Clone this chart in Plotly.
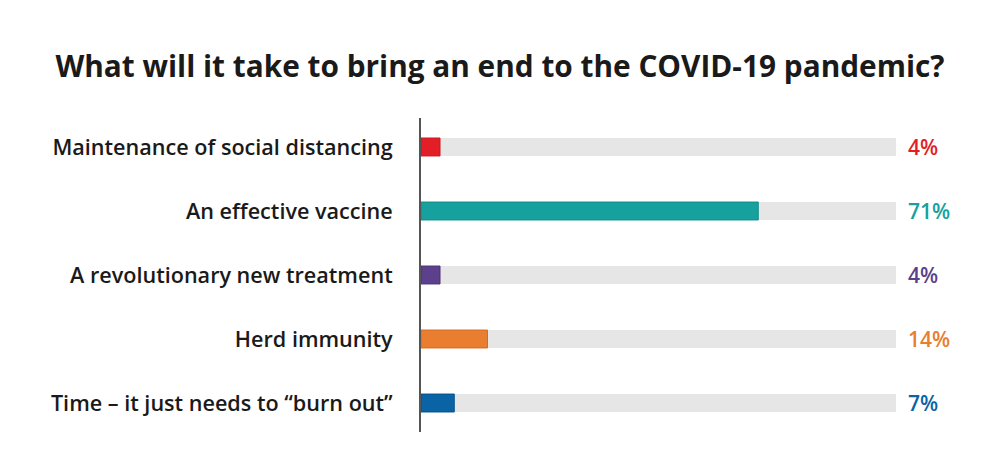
import plotly.graph_objects as go

categories = ["Maintenance of social distancing", "An effective vaccine",
              "A revolutionary new treatment", "Herd immunity",
              "Time \u2013 it just needs to \u201cburn out\u201d"]
values = [4, 71, 4, 14, 7]
labels = ["4%", "71%", "4%", "14%", "7%"]
colors = ["#E31E26", "#16A19F", "#5C408C", "#E97E30", "#0A63A5"]
edge_colors = ["#C8161D", "#0F8C8A", "#4A3075", "#D86A1E", "#07528A"]
track_max = [100] * 5

FONT = "Open Sans"

fig = go.Figure()
fig.add_trace(go.Bar(y=categories, x=track_max, orientation="h", width=0.28,
                     marker=dict(color="#E6E6E6", line=dict(width=0)),
                     hoverinfo="skip", showlegend=False))
fig.add_trace(go.Bar(y=categories, x=values, orientation="h", width=0.28,
                     marker=dict(color=colors, line=dict(color=edge_colors, width=1)),
                     showlegend=False))

for c, lab, col in zip(categories, labels, colors):
    fig.add_annotation(x=100, y=c, text=lab, xref="x", yref="y",
                       xanchor="left", yanchor="middle", xshift=10, showarrow=False,
                       font=dict(family=FONT, size=21, color=col, weight=600))

fig.update_layout(
    width=1000, height=462,
    barmode="overlay",
    paper_bgcolor="white", plot_bgcolor="white",
    margin=dict(l=413, r=112, t=110, b=38),
    title=dict(text="What will it take to bring an end to the COVID-19 pandemic?",
               x=0.492, xanchor="center", y=1 - 59/462, yanchor="middle", yref="container",
               font=dict(family=FONT, size=29.8, color="#1a1a1a", weight=700)),
    xaxis=dict(range=[0, 100], showgrid=False, zeroline=False, showticklabels=False,
               fixedrange=True),
    yaxis=dict(type="category", range=[4.453, -0.453], showgrid=False, zeroline=False,
               showline=True, linewidth=2, linecolor="#555555", ticks="",
               ticklabelstandoff=22,
               tickfont=dict(family=FONT, size=21.6, color="#1a1a1a", weight=600)),
)

fig.write_html("out.html")
